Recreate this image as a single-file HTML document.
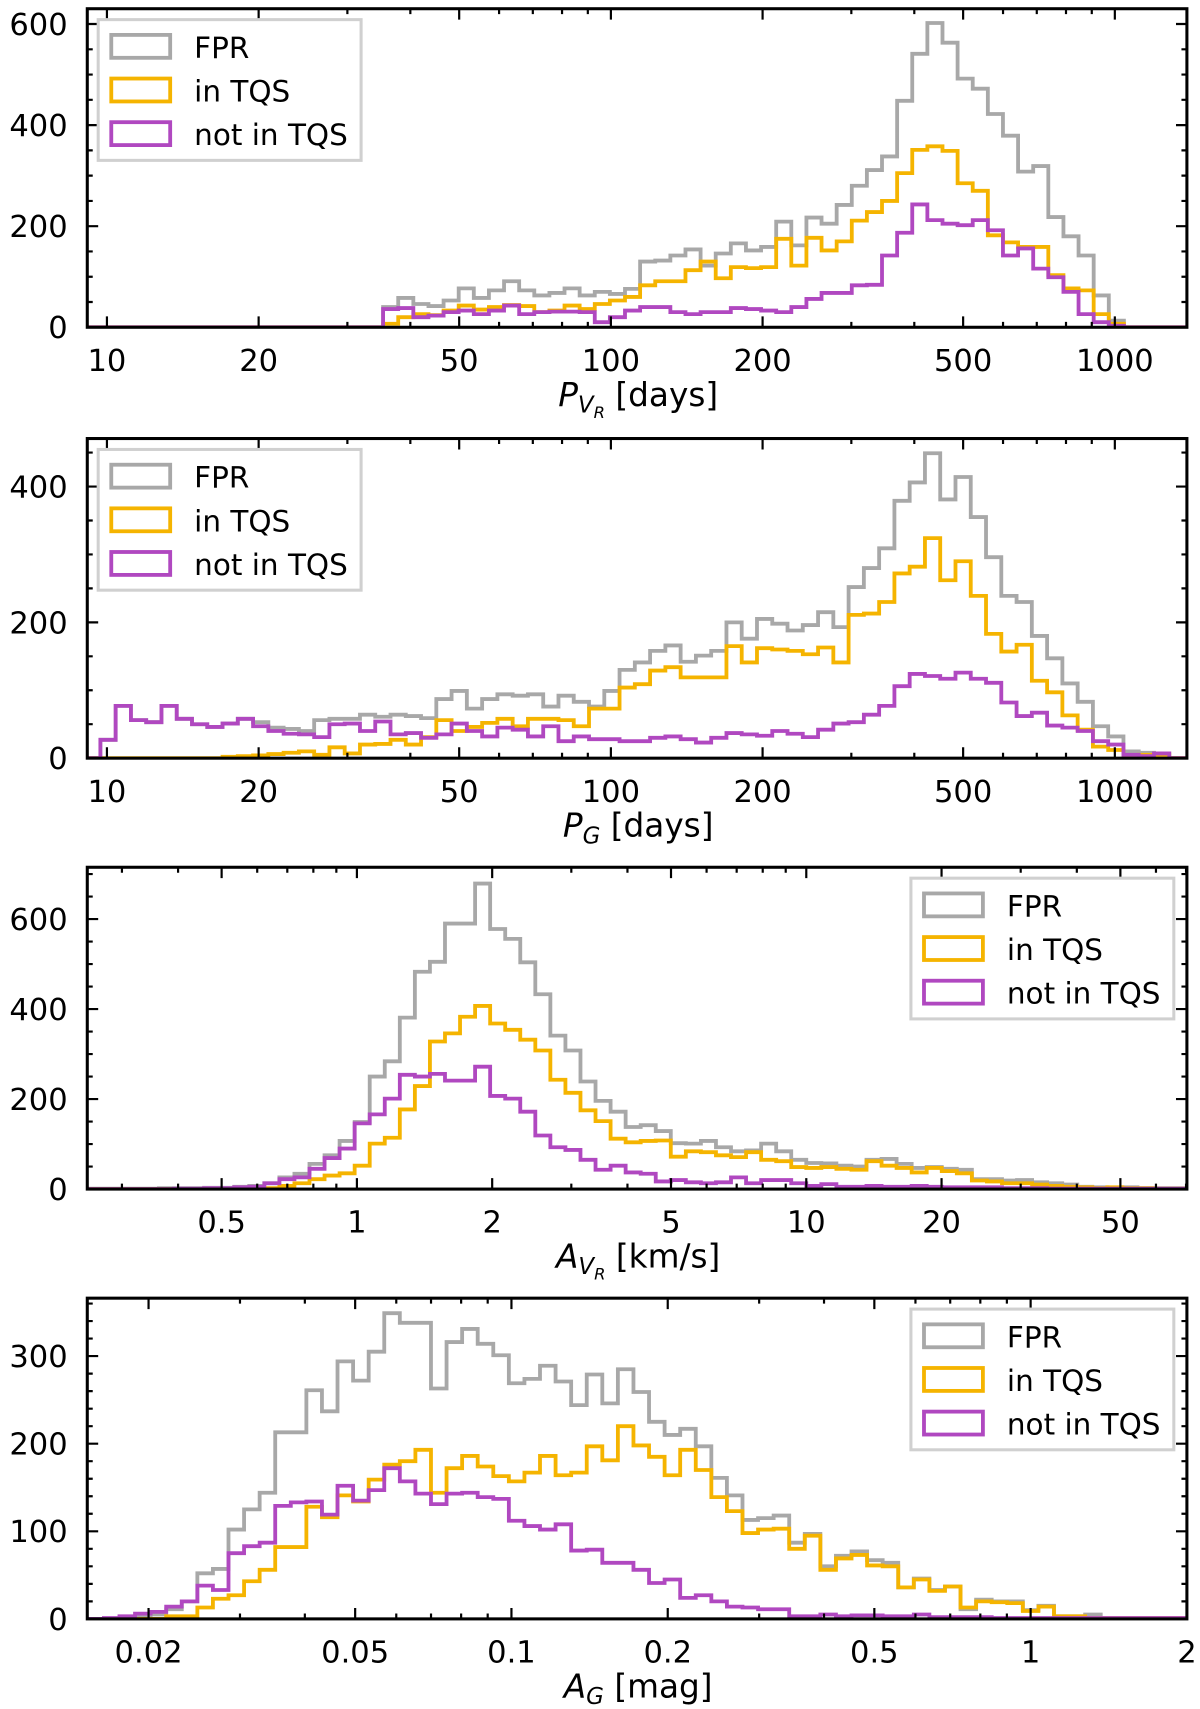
<!DOCTYPE html>
<html><head><meta charset="utf-8"><title>Histograms</title>
<style>
html,body{margin:0;padding:0;background:#fff;}
svg{display:block;font-family:"DejaVu Sans","Liberation Sans",sans-serif;}
</style></head>
<body>
<svg id="fig" width="1200" height="1709" viewBox="0 0 1100 1566.6" xmlns="http://www.w3.org/2000/svg"></svg>
<script>
// ---------- Panel 1: P_VR ----------
const p1BinStart = 1.548;   // log10 of first bin edge
const p1BinWidth = 0.0300;  // log10 bin width
const p1FPR = [40,58,46,42,53,77,58,73,91,73,63,68,77,63,70,66,76,130,132,142,154,122,146,166,152,159,209,162,217,205,242,280,311,338,448,541,602,563,492,472,422,379,308,319,218,180,142,63,13];
const p1In  = [7,20,26,24,33,43,35,40,44,42,30,33,43,36,46,53,60,83,91,91,113,130,97,119,117,119,175,122,177,152,170,211,228,250,305,351,358,349,285,270,182,168,159,159,103,77,73,26,7];
const p1Not = [36,38,20,23,30,33,26,33,43,26,30,31,31,30,10,20,33,40,40,30,26,30,30,38,36,33,30,40,56,68,68,83,84,142,187,243,212,205,202,212,192,142,156,116,99,70,26,10,3];
const p1YTicks = [0,200,400,600];
const p1XTicks = [10,20,50,100,200,500,1000];

// ---------- Panel 2: P_G ----------
const p2BinStart = 0.987;
const p2BinWidth = 0.0303;
const p2FPR = [27,77,56,53,77,58,50,46,51,58,53,45,43,40,56,58,58,64,61,64,62,59,87,99,73,87,94,92,94,76,92,83,76,99,130,141,158,166,142,151,158,200,176,205,198,188,196,215,193,252,280,309,379,406,449,381,414,355,296,239,230,180,147,110,83,47,32,10,8,7];
const p2In  = [0,0,0,0,0,0,0,0,2,3,4,6,8,10,5,16,7,20,21,27,20,31,56,40,46,52,58,47,58,58,56,47,73,73,104,109,129,134,119,119,119,165,141,162,160,158,153,163,141,211,213,230,272,282,324,262,290,239,183,157,167,114,97,63,42,17,12,3,5,5];
const p2Not = [27,77,56,53,77,58,50,46,51,58,47,40,36,35,31,50,51,40,54,35,37,30,35,51,40,32,45,42,32,47,25,32,28,28,25,25,30,32,28,23,30,37,35,33,40,36,31,42,51,53,64,77,106,124,121,117,126,117,111,82,62,67,48,45,40,25,20,5,3,7];
const p2YTicks = [0,200,400];
const p2XTicks = [10,20,50,100,200,500,1000];

// ---------- Panel 3: A_VR ----------
const p3BinStart = -0.608;
const p3BinWidth = 0.0335;
const p3FPR = [1,1,1,1,1,2,2,2,3,3,5,7,13,26,34,56,75,107,149,250,284,381,483,505,590,590,679,578,556,504,433,341,308,239,196,172,138,142,129,102,101,107,93,84,86,101,84,65,58,57,52,50,65,67,56,47,49,45,43,22,22,19,20,15,13,10,5,4,2,4,2,2,2,2];
const p3In  = [0,0,0,0,0,0,0,0,0,0,0,0,2,7,13,22,30,35,52,101,114,177,229,328,346,383,407,368,354,332,308,243,214,175,151,112,104,107,108,72,84,82,75,71,82,65,62,49,47,49,45,43,62,52,47,37,47,40,35,19,17,13,13,10,7,5,4,2,4,2,2,1,1,1];
const p3Not = [0,0,0,0,0,0,1,1,2,2,4,5,13,22,26,45,69,90,146,166,201,254,250,256,241,241,272,207,201,172,119,93,87,65,43,52,37,34,17,20,15,13,15,26,13,20,20,13,7,11,5,5,7,5,5,7,5,4,4,4,4,2,2,2,1,1,1,1,1,1,1,1,1,1];
const p3YTicks = [0,200,400,600];
const p3XTicks = [0.5,1,2,5,10,20,50];

// ---------- Panel 4: A_G ----------
const p4BinStart = -1.815;
const p4BinWidth = 0.0300;
const p4FPR = [0,0,1,3,5,11,20,52,57,102,125,144,213,213,261,237,294,272,305,349,338,338,263,316,331,314,301,269,274,289,271,244,279,246,285,259,225,210,217,197,161,141,113,115,118,87,97,60,72,77,67,64,36,46,33,37,11,22,20,20,10,15,3,3,5,1,1,1,1,1,1];
const p4In  = [0,0,0,0,0,3,3,13,23,27,43,56,82,82,128,116,141,134,159,176,180,193,144,172,186,174,163,157,167,186,164,167,197,181,220,198,185,164,193,170,139,123,98,102,103,80,95,56,69,73,61,60,36,45,32,37,13,20,19,18,9,14,3,3,1,1,1,1,1,1,1];
const p4Not = [0,1,3,6,8,14,20,38,33,75,83,87,129,133,134,119,152,135,147,172,157,143,131,143,144,139,137,112,106,102,108,78,79,64,64,56,41,45,24,27,20,14,13,11,11,3,3,5,3,4,4,3,3,5,2,2,2,2,1,1,1,1,1,1,1,1,1,1,1,1,1];
const p4YTicks = [0,100,200,300];
const p4XTicks = [0.02,0.05,0.1,0.2,0.5,1,2];

const COLORS = {fpr:'#a8a8a8', inq:'#f5b400', notq:'#b048c0'};
const NS = 'http://www.w3.org/2000/svg';
const svg = document.getElementById('fig');

function mk(tag, attrs, parent){
  const e = document.createElementNS(NS, tag);
  for (const k in attrs) e.setAttribute(k, attrs[k]);
  (parent||svg).appendChild(e);
  return e;
}

function panel(cfg){
  const g = mk('g', {});
  
  
  const L=80, R=1088, T=cfg.top, B=cfg.bottom;
  const xs = v => L + (v - cfg.lmin)/(cfg.lmax - cfg.lmin)*(R-L);   // v is log10
  const ys = v => B - v*cfg.pxPerUnit;
  const cid = 'clip-'+cfg.name;
  const cp = mk('clipPath', {id:cid}, g);
  mk('rect', {x:L, y:T, width:R-L, height:B-T}, cp);
  const series = [['fpr',cfg.fpr],['inq',cfg.inq],['notq',cfg.notq]];
  for (const [key, arr] of series){
    let d = 'M' + (L-5) + ' ' + ys(0) + ' H' + xs(cfg.binStart);
    for (let i=0;i<arr.length;i++){
      d += ' V' + ys(arr[i]).toFixed(2) + ' H' + xs(cfg.binStart + (i+1)*cfg.binWidth).toFixed(2);
    }
    d += ' V' + ys(0) + ' H' + (R+5);
    const p = mk('path', {d:d, fill:'none', stroke:COLORS[key], 'stroke-width':3.5, 'stroke-linejoin':'miter', 'clip-path':'url(#'+cid+')'}, g);
    
    
  }
  const fr = mk('rect', {x:L, y:T, width:R-L, height:B-T, fill:'none', stroke:'#000', 'stroke-width':2.8}, g);
  
  
  const ymaxVal = (B-T)/cfg.pxPerUnit;
  let tk = '';
  for (let v=0; v<=ymaxVal; v+=cfg.yMinor){
    const y = ys(v);
    const major = cfg.yTicks.indexOf(v) >= 0;
    const len = major ? 10 : 5;
    tk += 'M'+L+' '+y+' h'+len+' M'+R+' '+y+' h'+(-len)+' ';
  }
  const d0 = Math.floor(cfg.lmin), d1 = Math.ceil(cfg.lmax);
  for (let dec=d0; dec<=d1; dec++){
    for (let m=1;m<10;m++){
      const lv = dec + Math.log10(m);
      if (lv < cfg.lmin || lv > cfg.lmax) continue;
      const val = Math.pow(10, lv);
      const major = cfg.xTicks.some(t => Math.abs(t-val)/t < 1e-6);
      const len = major ? 10 : 5;
      const x = xs(lv);
      tk += 'M'+x+' '+B+' v'+(-len)+' M'+x+' '+T+' v'+len+' ';
    }
  }
  const tp = mk('path', {d:tk, stroke:'#000', 'stroke-width':2, fill:'none'}, g);
  
  
  for (const v of cfg.yTicks){
    const t = mk('text', {x:62, y:ys(v)+10, 'text-anchor':'end', 'font-size':28, fill:'#000'}, g);
    t.textContent = String(v);
    
    
  }
  for (const v of cfg.xTicks){
    const t = mk('text', {x:xs(Math.log10(v)), y:B+40, 'text-anchor':'middle', 'font-size':28, fill:'#000'}, g);
    t.textContent = String(v);
    
    
  }
  const tt = mk('text', {x:585, y:B+72, 'text-anchor':'middle', 'font-size':30, fill:'#000'}, g);
  
  
  const a = mk('tspan', {'font-style':'italic'}, tt); a.textContent = cfg.sym;
  const s1 = mk('tspan', {'font-style':'italic', 'font-size':21, dy:6}, tt); s1.textContent = cfg.sub;
  let back = -6;
  if (cfg.subsub){ const s2 = mk('tspan', {'font-style':'italic','font-size':15, dy:5}, tt); s2.textContent = cfg.subsub; back = -11; }
  const u = mk('tspan', {dy:back}, tt); u.textContent = ' ' + cfg.unit;
  const lx = cfg.legendRight ? 835 : 90, ly = T+10;
  const lg = mk('g', {}, g);
  
  
  mk('rect', {x:lx, y:ly, width:241, height:129, fill:'#fff', 'fill-opacity':0.85, stroke:'#d0d0d0', 'stroke-width':2.8}, lg);
  const labels = [['fpr','FPR'],['inq','in TQS'],['notq','not in TQS']];
  labels.forEach((lab, i) => {
    const e = mk('g', {}, lg);
    
    
    mk('rect', {x:lx+12, y:ly+14+i*40, width:54, height:21, fill:'none', stroke:COLORS[lab[0]], 'stroke-width':3.5}, e);
    const t = mk('text', {x:lx+88, y:ly+35+i*40, 'font-size':27, fill:'#000'}, e);
    t.textContent = lab[1];
  });
}

panel({name:'panel-p-vr', top:8, bottom:300, pxPerUnit:0.4633, yTicks:p1YTicks, yMinor:50, xTicks:p1XTicks,
  lmin:0.961, lmax:3.143, binStart:p1BinStart, binWidth:p1BinWidth, fpr:p1FPR, inq:p1In, notq:p1Not,
  sym:'P', sub:'V', subsub:'R', unit:'[days]', legendRight:false});
panel({name:'panel-p-g', top:402, bottom:695, pxPerUnit:0.6225, yTicks:p2YTicks, yMinor:50, xTicks:p2XTicks,
  lmin:0.961, lmax:3.143, binStart:p2BinStart, binWidth:p2BinWidth, fpr:p2FPR, inq:p2In, notq:p2Not,
  sym:'P', sub:'G', subsub:'', unit:'[days]', legendRight:false});
panel({name:'panel-a-vr', top:795, bottom:1090, pxPerUnit:0.4125, yTicks:p3YTicks, yMinor:50, xTicks:p3XTicks,
  lmin:-0.600, lmax:1.847, binStart:p3BinStart, binWidth:p3BinWidth, fpr:p3FPR, inq:p3In, notq:p3Not,
  sym:'A', sub:'V', subsub:'R', unit:'[km/s]', legendRight:true});
panel({name:'panel-a-g', top:1190, bottom:1484, pxPerUnit:0.803, yTicks:p4YTicks, yMinor:20, xTicks:p4XTicks,
  lmin:-1.817, lmax:0.301, binStart:p4BinStart, binWidth:p4BinWidth, fpr:p4FPR, inq:p4In, notq:p4Not,
  sym:'A', sub:'G', subsub:'', unit:'[mag]', legendRight:true});
</script>
</body></html>
